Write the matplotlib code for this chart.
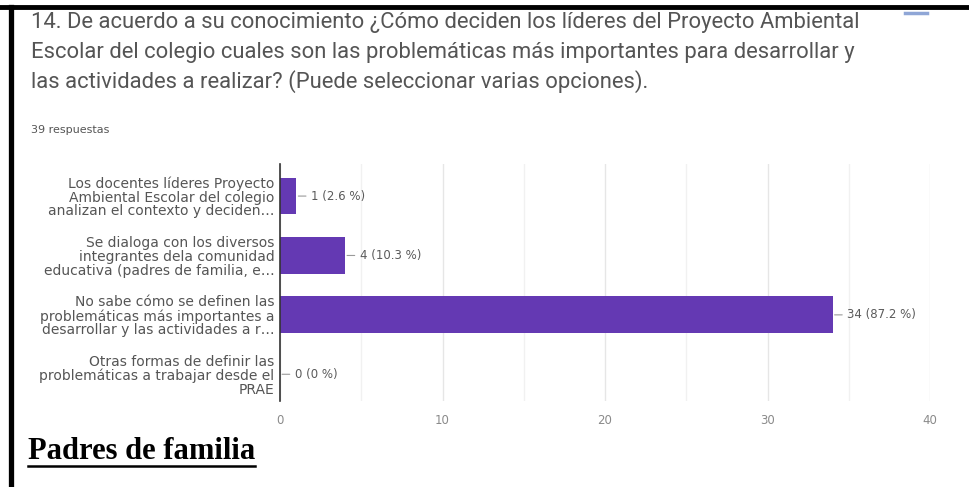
import matplotlib
matplotlib.use("Agg")
import matplotlib.pyplot as plt
from matplotlib.lines import Line2D

title_lines = [
    "14. De acuerdo a su conocimiento ¿Cómo deciden los líderes del Proyecto Ambiental",
    "Escolar del colegio cuales son las problemáticas más importantes para desarrollar y",
    "las actividades a realizar? (Puede seleccionar varias opciones).",
]
subtitle = "39 respuestas"
categories = [
    "Los docentes líderes Proyecto\nAmbiental Escolar del colegio\nanalizan el contexto y deciden…",
    "Se dialoga con los diversos\nintegrantes dela comunidad\neducativa (padres de familia, e…",
    "No sabe cómo se definen las\nproblemáticas más importantes a\ndesarrollar y las actividades a r…",
    "Otras formas de definir las\nproblemáticas a trabajar desde el\nPRAE",
]
values = [1, 4, 34, 0]
percent_labels = ["2.6 %", "10.3 %", "87.2 %", "0 %"]
x_ticks = [0, 10, 20, 30, 40]
footer = "Padres de familia"

W, H = 969, 487
fig = plt.figure(figsize=(W / 100, H / 100), dpi=100)
fig.patch.set_facecolor("white")

def fx(px):
    return px / W

def fy(py):
    return 1 - py / H

ax = fig.add_axes([fx(280), fy(401), fx(930) - fx(280), fy(164) - fy(401)])
ypos = list(range(len(categories)))
ax.barh(ypos, values, height=0.62, color="#6439b3", zorder=3)
ax.set_xlim(0, 40)
ax.set_ylim(3.45, -0.54)
ax.set_xticks(x_ticks)
ax.set_xticks([5, 15, 25, 35], minor=True)
ax.set_xticklabels([str(t) for t in x_ticks], color="#8a8a8a", fontsize=8.5, family="DejaVu Sans")
ax.tick_params(axis="x", which="both", length=0, pad=9)
ax.grid(axis="x", which="major", color="#e6e6e6", linewidth=1.0, zorder=0)
ax.grid(axis="x", which="minor", color="#f1f1f1", linewidth=1.0, zorder=0)
ax.set_yticks(ypos)
ax.set_yticklabels(categories, fontsize=10, color="#555555", family="DejaVu Sans", linespacing=0.98)
ax.tick_params(axis="y", length=0, pad=4)
for s in ["top", "right", "bottom"]:
    ax.spines[s].set_visible(False)
ax.spines["left"].set_color("#333333")
ax.spines["left"].set_linewidth(1.2)
ax.spines["left"].set_zorder(4)

for y, v, p in zip(ypos, values, percent_labels):
    ax.annotate(f"{v} ({p})", xy=(v, y), xytext=(10.5, 0), textcoords="offset points",
                va="center", ha="left", fontsize=8.5, color="#5a5a5a", family="DejaVu Sans",
                arrowprops=dict(arrowstyle="-", color="#9a9a9a", lw=0.8,
                                shrinkA=1.5, shrinkB=1.5))

# title
for i, line in enumerate(title_lines):
    fig.text(fx(31), fy(28 + 30 * i), line, fontsize=15.8, color="#555555",
             family="Roboto", va="baseline", ha="left")
fig.text(fx(31), fy(130), subtitle, fontsize=8, color="#555555", family="DejaVu Sans",
         va="center", ha="left")

# footer
ftxt = fig.text(fx(28), fy(459), footer, fontsize=22, fontweight="bold", family="Liberation Serif",
                color="black", va="baseline", ha="left")

fig.canvas.draw()
bb = ftxt.get_window_extent()
fig.add_artist(Line2D([bb.x0 / W, bb.x1 / W], [fy(466), fy(466)], color="black", lw=1.8))

# page borders
fig.add_artist(Line2D([0, 1], [fy(7), fy(7)], color="black", lw=3.5))
fig.add_artist(Line2D([fx(10.5), fx(10.5)], [0, fy(7)], color="black", lw=3.8))
# small blue dash at top right
fig.add_artist(Line2D([fx(905), fx(927)], [fy(13), fy(13)], color="#8fa6d6", lw=2.5))

fig.savefig("out.png", dpi=100, facecolor="white")
